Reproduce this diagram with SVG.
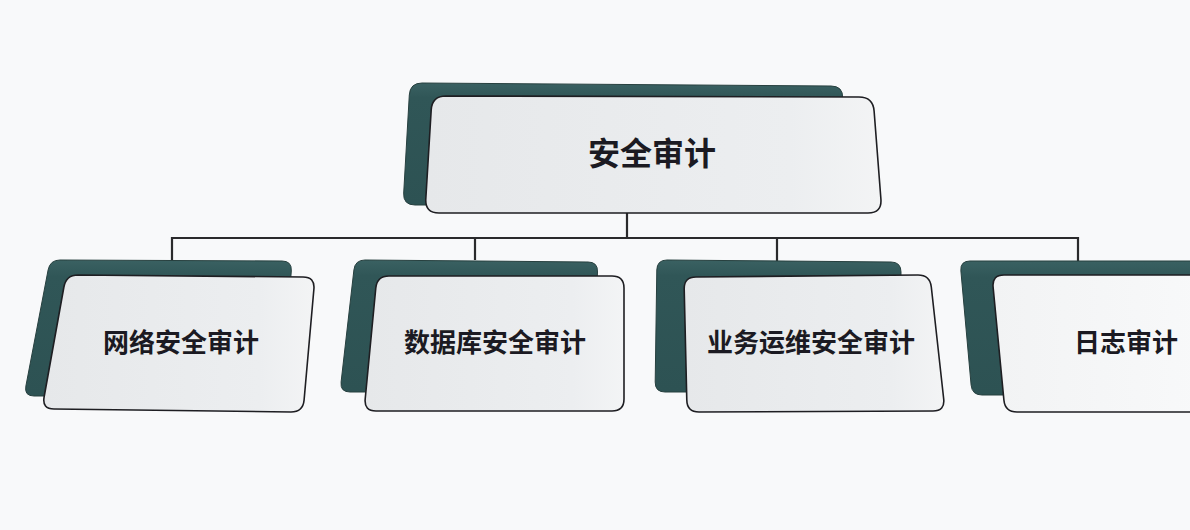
<svg xmlns="http://www.w3.org/2000/svg" width="1190" height="530" viewBox="0 0 1190 530">
<defs>
<linearGradient id="dark" x1="0" y1="0" x2="0" y2="1">
<stop offset="0" stop-color="#3a6162"/>
<stop offset="0.12" stop-color="#305657"/>
<stop offset="1" stop-color="#2d5253"/>
</linearGradient>
<linearGradient id="front" x1="0" y1="0" x2="1" y2="0">
<stop offset="0" stop-color="#e6e8ea"/>
<stop offset="0.8" stop-color="#eceef0"/>
<stop offset="1" stop-color="#f3f4f5"/>
</linearGradient>
<linearGradient id="front4" x1="0" y1="0" x2="1" y2="0">
<stop offset="0" stop-color="#f2f3f4"/>
<stop offset="1" stop-color="#f8f9fa"/>
</linearGradient>
</defs>
<style>
.back{fill:url(#dark);stroke:#27403f;stroke-width:1}
.card{fill:url(#front);stroke:#1e1e22;stroke-width:1.6}
.lbl{font-family:"Noto Sans CJK SC","Noto Sans",sans-serif;font-weight:bold;fill:#1b1a22;text-anchor:middle}
.conn{fill:none;stroke:#2a2a2c;stroke-width:2.2}
</style>
<rect width="1190" height="530" fill="#f8f9fa"/>
<g id="connectors">
<path class="conn" d="M627,213 V238 M172,238 H1078 M172,237 V260 M475,237 V260 M777,237 V261 M1078,237 V261"/>
</g>
<g id="root">
<path class="back" d="M422,83 L831,86 Q843,86 842.7,98 L840.3,193 Q840,205 828,205 L415,205 Q403,205 403.7,193 L409.3,95 Q410,83 422,83 Z"/>
<path class="card" d="M446,96 L859,97 Q873,97 874.1,111 L880.9,199 Q882,213 868,213 L439,213 Q425,213 425.8,199 L431.2,110 Q432,96 446,96 Z"/>
<text class="lbl" x="652" y="165" font-size="32">安全审计</text>
</g>
<g id="network">
<path class="back" d="M60,260 L282,261 Q292,261 291.3,271 L282.7,386 Q282,396 272,396 L34,396 Q24,396 25.9,386 L48.1,270 Q50,260 60,260 Z"/>
<path class="card" d="M78,275 L303,277 Q315,277 313.9,289 L304.1,400 Q303,412 291,412 L54,409 Q42,409 44.1,397 L63.9,287 Q66,275 78,275 Z"/>
<text class="lbl" x="181" y="352" font-size="26">网络安全审计</text>
</g>
<g id="database">
<path class="back" d="M365,260 L588,262 Q598,262 597.5,272 L592.5,382 Q592,392 582,392 L350,392 Q340,392 341.1,382 L353.9,270 Q355,260 365,260 Z"/>
<path class="card" d="M389,276 L612,276 Q624,276 624,288 L624,399 Q624,411 612,411 L376,411 Q364,411 365.2,399 L375.8,288 Q377,276 389,276 Z"/>
<text class="lbl" x="495" y="352" font-size="26">数据库安全审计</text>
</g>
<g id="ops">
<path class="back" d="M667,260 L891,262 Q901,262 901,272 L900,382 Q900,392 890,392 L665,392 Q655,392 655.2,382 L656.8,270 Q657,260 667,260 Z"/>
<path class="card" d="M696,277 L918,275 Q930,275 931.3,287 L943.7,399 Q945,411 933,411 L699,412 Q687,412 686.8,400 L684.2,289 Q684,277 696,277 Z"/>
<text class="lbl" x="811" y="352" font-size="26">业务运维安全审计</text>
</g>
<g id="log">
<path class="back" d="M970,261 L1210,261 L1210,395 L982,395 Q972,395 971.1,385 L960.9,271 Q960,261 970,261 Z"/>
<path class="card" style="fill:url(#front4)" d="M1004,275 L1210,275 L1210,412 L1017,412 Q1005,412 1003.9,400 L993.1,287 Q992,275 1004,275 Z"/>
<text class="lbl" x="1126" y="352" font-size="26">日志审计</text>
</g>
</svg>
